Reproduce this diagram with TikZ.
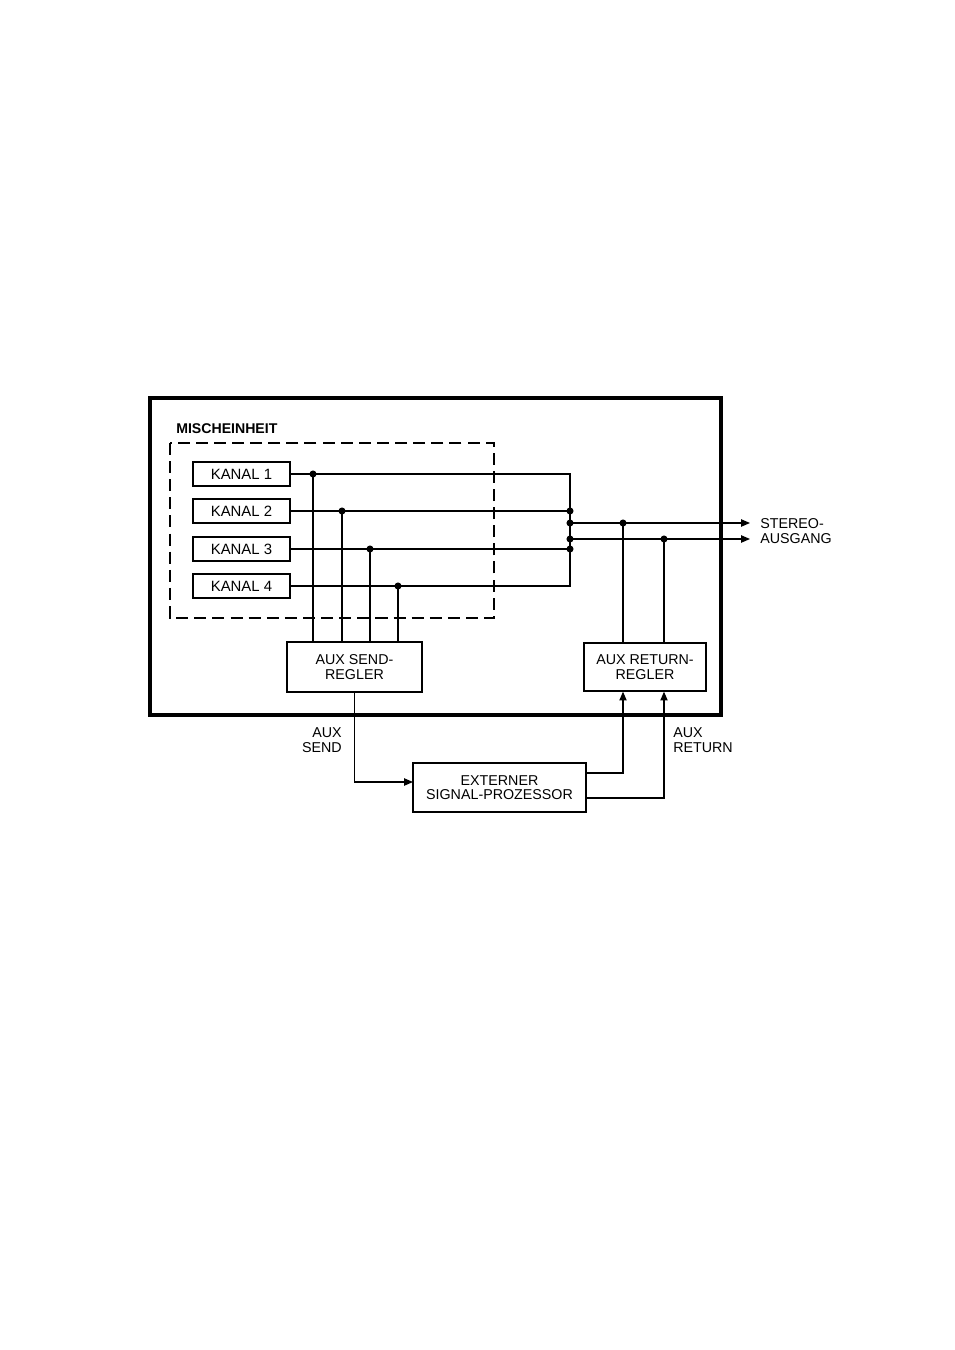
\documentclass[tikz,border=0pt]{standalone}
\usepackage{fontspec}
\setmainfont{Liberation Sans}
\usetikzlibrary{arrows.meta}
\begin{document}
\begin{tikzpicture}[x=0.6237pt,y=-0.6237pt,
  wire/.style={line width=0.8pt},
  arr/.style={wire,-{Triangle[length=5.5pt,width=4.5pt]}},
  kbox/.style={draw,line width=0.8pt,minimum width=97*0.6237pt,minimum height=24*0.6237pt,inner sep=0pt,font=\fontsize{9.3}{10}\selectfont},
  bbox/.style={draw,line width=0.8pt,inner sep=0pt,align=center,font=\fontsize{8.9}{9}\selectfont},
  lbl/.style={inner sep=0pt,font=\fontsize{8.9}{9.5}\selectfont},
  dot/.style={circle,fill,inner sep=0pt,minimum size=4.4pt}]
\useasboundingbox (0,0) rectangle (954,1350);
% outer frame
\draw[line width=2.5pt] (150,398) rectangle (721,715);
\node[inner sep=0pt,anchor=west,font=\bfseries\fontsize{8.8}{10}\selectfont] (misch) at (176,429) {MISCHEINHEIT};
\draw[line width=1.2pt,dash pattern=on 7.5pt off 3.8pt] (170,443) rectangle (494,618);
% channels
\node[kbox] (k1) at (241.5,474) {KANAL 1};
\node[kbox] (k2) at (241.5,511) {KANAL 2};
\node[kbox] (k3) at (241.5,549) {KANAL 3};
\node[kbox] (k4) at (241.5,586) {KANAL 4};
% boxes
\node[bbox,minimum width=135*0.6237pt,minimum height=50*0.6237pt] (send) at (354.5,667) {AUX SEND-\\REGLER};
\node[bbox,minimum width=122*0.6237pt,minimum height=48*0.6237pt] (ret) at (645,667) {AUX RETURN-\\REGLER};
\node[bbox,minimum width=173*0.6237pt,minimum height=49*0.6237pt] (ext) at (499.5,787.5) {EXTERNER\\SIGNAL-PROZESSOR};
% junctions
\coordinate (b1) at (570,474);
\coordinate (b2) at (570,511);
\coordinate (bl) at (570,523);
\coordinate (br) at (570,539);
\coordinate (b3) at (570,549);
\coordinate (b4) at (570,586);
\coordinate (d1) at (313,474);
\coordinate (d2) at (342,511);
\coordinate (d3) at (370,549);
\coordinate (d4) at (398,586);
\coordinate (sl) at (750,523);
\coordinate (sr) at (750,539);
\coordinate (rl) at (623,523);
\coordinate (rr) at (664,539);
\coordinate (sendin) at (413,782);
\coordinate (out1) at (586,773);
\coordinate (out2) at (586,798);
% channel lines to bus
\draw[wire] (k1.east) -- (b1) -- (b4) -- (k4.east);
\draw[wire] (k2.east) -- (b2);
\draw[wire] (k3.east) -- (b3);
% sends
\foreach \d in {d1,d2,d3,d4}{\draw[wire] (\d) -- (\d |- send.north); \node[dot] at (\d) {};}
% stereo out
\draw[arr] (bl) -- (sl);
\draw[arr] (br) -- (sr);
\foreach \d in {b2,bl,br,b3,rl,rr}{\node[dot] at (\d) {};}
\draw[wire] (rl) -- (rl |- ret.north);
\draw[wire] (rr) -- (rr |- ret.north);
\node[lbl,anchor=west,align=left] (stereo) at (760,531) {STEREO-\\AUSGANG};
% external loop
\draw[arr] (send.south) |- (sendin);
\draw[arr] (out1) -| (rl |- ret.south);
\draw[arr] (out2) -| (rr |- ret.south);
\node[lbl,anchor=east,align=right] (auxsend) at (342,740) {AUX\\SEND};
\node[lbl,anchor=west,align=left] (auxret) at (673,740.5) {AUX\\RETURN};
\end{tikzpicture}
\end{document}
